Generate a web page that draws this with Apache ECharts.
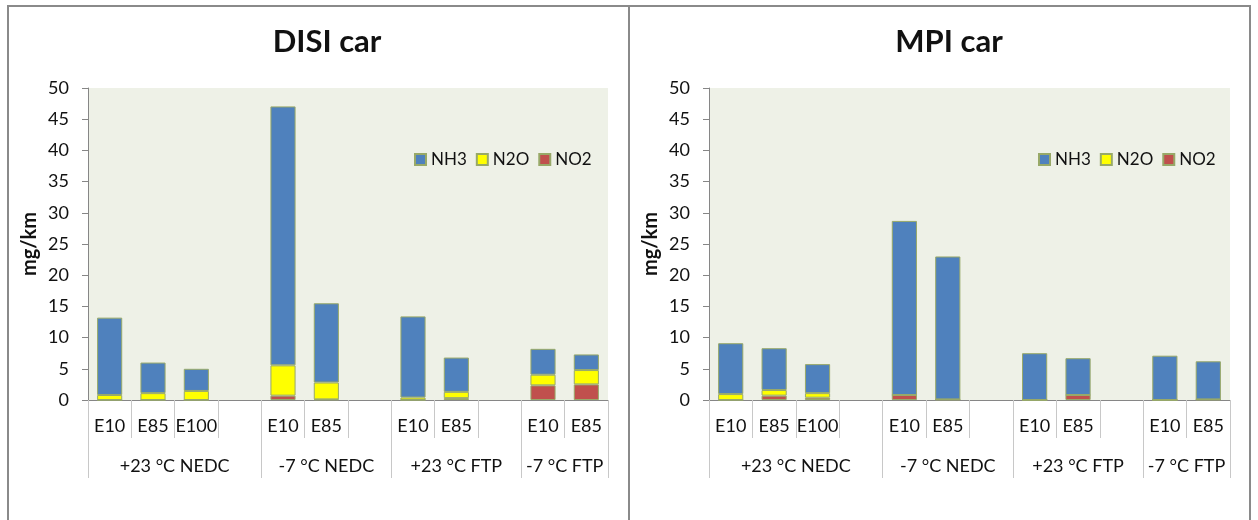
<!DOCTYPE html>
<html>
<head>
<meta charset="utf-8">
<script src="https://cdn.jsdelivr.net/npm/echarts@6/dist/echarts.min.js"></script>
<style>
  html, body { margin: 0; padding: 0; background: #fff; }
  #chart { width: 1258px; height: 520px; }
</style>
</head>
<body>
<div id="chart"></div>
<script>
// Fuel slots along the x axis (blank slots separate the test groups)
const slots = ['E10', 'E85', 'E100', '', 'E10', 'E85', '', 'E10', 'E85', '', 'E10', 'E85'];
// Test groups and how many slots each spans
const groups = ['+23 °C NEDC', '-7 °C NEDC', '+23 °C FTP', '-7 °C FTP'];
const groupSizes = [4, 3, 3, 2];
// Value axis
const yMin = 0, yMax = 50, yStep = 5;
const yName = 'mg/km';
const pollutants = ['NH3', 'N2O', 'NO2'];
const chartTitles = ['DISI car', 'MPI car'];

// Emissions, mg/km
const disiNH3 = [12.4, 4.9, 3.55, null, 41.5, 12.7, null, 13.0, 5.5, null, 4.15, 2.5];
const disiN2O = [0.8, 1.1, 1.45, null, 4.85, 2.7, null, 0.4, 1.0, null, 1.7, 2.3];
const disiNO2 = [0, 0, 0, null, 0.7, 0.1, null, 0, 0.3, null, 2.35, 2.5];

const mpiNH3 = [8.15, 6.7, 4.65, null, 27.9, 22.9, null, 7.5, 5.9, null, 7.1, 6.1];
const mpiN2O = [0.95, 0.9, 0.73, null, 0, 0, null, 0, 0, null, 0, 0];
const mpiNO2 = [0, 0.7, 0.37, null, 0.8, 0.1, null, 0, 0.8, null, 0, 0.1];

const colors = { NH3: '#4f81bd', N2O: '#ffff00', NO2: '#c0504d' };
const FONT = 'Lato';
const AXIS_GRAY = '#868686';

// Group boundaries and centres in slot units
const groupEdges = [0];
groupSizes.forEach(n => groupEdges.push(groupEdges[groupEdges.length - 1] + n));
const groupCenters = groupSizes.map((n, i) => groupEdges[i] + n / 2);

const panels = [
  { left: 88, width: 520, center: 322, legendLeft: 409, data: { NH3: disiNH3, N2O: disiN2O, NO2: disiNO2 } },
  { left: 709, width: 521, center: 944, legendLeft: 1033, data: { NH3: mpiNH3, N2O: mpiN2O, NO2: mpiNO2 } }
];

const grid = [], xAxis = [], yAxis = [], series = [], legend = [], title = [];

panels.forEach((p, i) => {
  grid.push({
    left: p.left, top: 88, width: p.width, height: 312,
    show: true, backgroundColor: '#eef1e7', borderWidth: 0
  });
  title.push({
    text: chartTitles[i], left: p.center, top: 21, textAlign: 'center',
    textStyle: { fontFamily: FONT, fontWeight: 'bold', fontSize: 31, color: '#111' }
  });
  legend.push({
    data: pollutants, left: p.legendLeft, top: 146, orient: 'horizontal',
    icon: 'rect', itemWidth: 11, itemHeight: 11, itemGap: 9,
    textStyle: { fontFamily: FONT, fontSize: 17, color: '#111' }
  });
  // fuel level
  xAxis.push({
    type: 'category', gridIndex: i, data: slots, position: 'bottom',
    axisLine: { show: true, lineStyle: { color: AXIS_GRAY, width: 1 } },
    axisTick: { show: true, interval: 0, length: 38, lineStyle: { color: '#c8c8c8' } },
    axisLabel: { interval: 0, margin: 17, fontFamily: FONT, fontSize: 18, color: '#111' },
    splitLine: { show: false }
  });
  // test-group level
  xAxis.push({
    type: 'value', gridIndex: i, min: 0, max: slots.length, position: 'bottom', offset: 0,
    axisLine: { show: false },
    axisTick: { show: true, customValues: groupEdges, length: 78, lineStyle: { color: '#c8c8c8' } },
    axisLabel: {
      customValues: groupCenters, margin: 57, fontFamily: FONT, fontSize: 18, color: '#111',
      formatter: v => groups[groupCenters.indexOf(v)] || ''
    },
    splitLine: { show: false }
  });
  yAxis.push({
    type: 'value', gridIndex: i, min: yMin, max: yMax, interval: yStep,
    name: yName, nameLocation: 'middle', nameGap: 48, nameRotate: 90,
    nameTextStyle: { fontFamily: FONT, fontWeight: 'bold', fontSize: 20, color: '#111' },
    axisLine: { show: true, lineStyle: { color: AXIS_GRAY } },
    axisTick: { show: true, length: 6, lineStyle: { color: AXIS_GRAY } },
    axisLabel: { margin: 19, fontFamily: FONT, fontSize: 18, color: '#111' },
    splitLine: { show: false }
  });
  // stacked from the bottom: NO2, N2O, NH3
  ['NO2', 'N2O', 'NH3'].forEach(name => {
    series.push({
      name, type: 'bar', stack: 'total' + i,
      xAxisIndex: i * 2, yAxisIndex: i,
      data: p.data[name], barWidth: '58%',
      itemStyle: { color: colors[name], borderColor: '#98a968', borderWidth: 1 },
      emphasis: { disabled: true }
    });
  });
});

const chart = echarts.init(document.getElementById('chart'), null, { renderer: 'canvas' });
chart.setOption({
  animation: false,
  backgroundColor: '#fff',
  color: [colors.NO2, colors.N2O, colors.NH3],
  title, legend, grid, xAxis, yAxis, series,
  graphic: [
    { type: 'rect', shape: { x: 8, y: 6, width: 1242, height: 530 }, style: { fill: null, stroke: '#8a8a8a', lineWidth: 2 }, silent: true },
    { type: 'line', shape: { x1: 629, y1: 6, x2: 629, y2: 530 }, style: { stroke: '#8a8a8a', lineWidth: 2 }, silent: true }
  ]
});
</script>
</body>
</html>
